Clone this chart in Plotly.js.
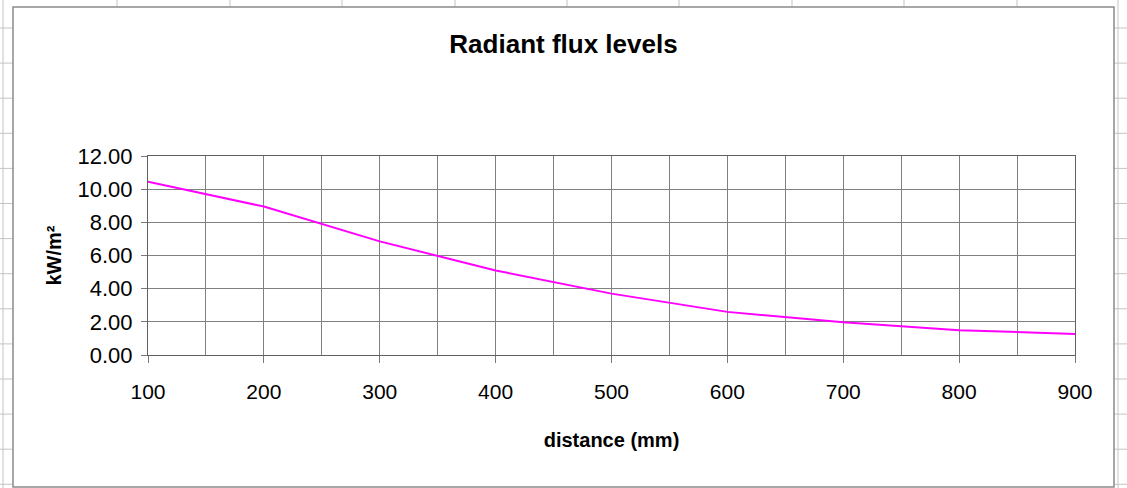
<!DOCTYPE html>
<html>
<head>
<meta charset="utf-8">
<script src="https://cdn.plot.ly/plotly-3.0.1.min.js"></script>
<style>html,body{margin:0;padding:0;background:#fff;}#chart{width:1127px;height:488px;}</style>
</head>
<body>
<div id="chart"></div>
<script>
// Data
const distance = [100, 200, 300, 400, 500, 600, 700, 800, 900];
const fluxKW = [10.45, 8.95, 6.85, 5.1, 3.7, 2.6, 1.98, 1.5, 1.27];
const yTickVals = [0, 2, 4, 6, 8, 10, 12];
const xTickVals = [100, 200, 300, 400, 500, 600, 700, 800, 900];

const W = 1127, H = 488;
const M = {l: 148, r: 52, t: 156, b: 133};
const PW = W - M.l - M.r, PH = H - M.t - M.b;
// pixel -> paper helpers for decorative spreadsheet background
const px = x => (x - M.l) / PW;
const py = y => (H - M.b - y) / PH;

const shapes = [];
const sheetLine = {color: '#c4c4c4', width: 1};
// spreadsheet column lines above the chart object
[117, 230, 342, 455, 567, 679, 792, 904, 1017].forEach(x => {
  shapes.push({type: 'line', xref: 'paper', yref: 'paper', x0: px(x), x1: px(x), y0: py(0), y1: py(7), line: sheetLine, layer: 'below'});
});
// spreadsheet column lines at far left / right
[3, 1118].forEach(x => {
  shapes.push({type: 'line', xref: 'paper', yref: 'paper', x0: px(x), x1: px(x), y0: py(0), y1: py(H), line: sheetLine, layer: 'below'});
});
// spreadsheet row lines either side
for (let k = 0; k < 14; k++) {
  const y = 28 + 35.1 * k;
  shapes.push({type: 'line', xref: 'paper', yref: 'paper', x0: px(0), x1: px(13), y0: py(y), y1: py(y), line: sheetLine, layer: 'below'});
  shapes.push({type: 'line', xref: 'paper', yref: 'paper', x0: px(1114), x1: px(W), y0: py(y), y1: py(y), line: sheetLine, layer: 'below'});
}
// chart object frame
shapes.push({type: 'rect', xref: 'paper', yref: 'paper', x0: px(13), x1: px(1114), y0: py(487), y1: py(7), line: {color: '#8a8a8a', width: 1.5}, fillcolor: 'rgba(0,0,0,0)', layer: 'below'});

const trace = {
  x: distance,
  y: fluxKW,
  type: 'scatter',
  mode: 'lines',
  line: {color: '#ff00ff', width: 2},
  hoverinfo: 'x+y'
};

const font = {family: '"Liberation Sans", Arial, sans-serif', color: '#000'};

const layout = {
  width: W, height: H,
  margin: M,
  paper_bgcolor: '#fff',
  plot_bgcolor: '#fff',
  showlegend: false,
  font: Object.assign({}, font, {size: 20}),
  title: {
    text: 'Radiant flux levels',
    font: Object.assign({}, font, {size: 26, weight: 700}),
    x: 563.5 / W, xref: 'container', xanchor: 'center',
    y: 1 - 44 / H, yref: 'container', yanchor: 'middle'
  },
  xaxis: {
    range: [100, 900],
    tickmode: 'array', tickvals: xTickVals, ticktext: xTickVals.map(String),
    ticks: 'outside', ticklen: 7, tickcolor: '#777', tickwidth: 1,
    ticklabelstandoff: 11,
    tickfont: Object.assign({}, font, {size: 21}),
    showgrid: true, gridcolor: '#808080', gridwidth: 1,
    minor: {dtick: 50, showgrid: true, gridcolor: '#808080', gridwidth: 1, ticks: ''},
    showline: true, linecolor: '#606060', linewidth: 1, mirror: true,
    zeroline: false,
    title: {text: 'distance (mm)', font: Object.assign({}, font, {size: 20, weight: 700}), standoff: 30}
  },
  yaxis: {
    range: [0, 12],
    tickmode: 'array', tickvals: yTickVals, ticktext: yTickVals.map(v => v.toFixed(2)),
    ticks: 'outside', ticklen: 6, tickcolor: '#777', tickwidth: 1,
    ticklabelstandoff: 4,
    tickfont: Object.assign({}, font, {size: 22}),
    showgrid: true, gridcolor: '#808080', gridwidth: 1,
    showline: true, linecolor: '#606060', linewidth: 1, mirror: true,
    zeroline: false,
    title: {text: 'kW/m²', font: Object.assign({}, font, {size: 20, weight: 700}), standoff: 10}
  },
  shapes: shapes
};

Plotly.newPlot('chart', [trace], layout, {displayModeBar: false, staticPlot: true});
</script>
</body>
</html>
